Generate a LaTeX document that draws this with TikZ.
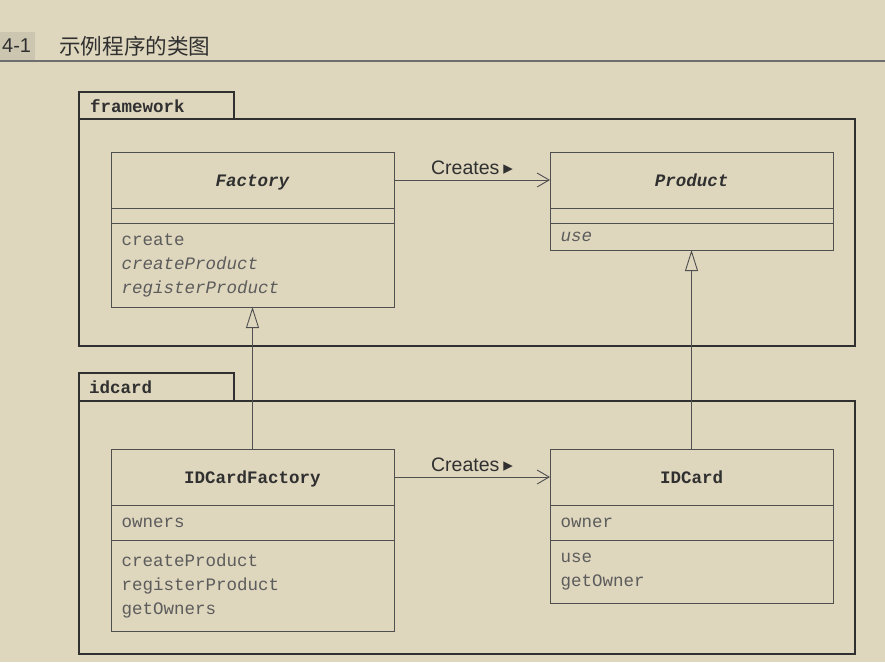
\documentclass[tikz,border=0pt]{standalone}
\usepackage{fontspec}
\setmainfont{Liberation Sans}
\setmonofont{Liberation Mono}
\newfontfamily\cjk{Noto Sans CJK SC}
\newfontfamily\symfont{DejaVu Sans}
\usetikzlibrary{arrows.meta}

\definecolor{paper}{RGB}{222,214,189}
\definecolor{ink}{RGB}{48,48,48}
\definecolor{member}{RGB}{92,92,92}
\definecolor{tabgray}{RGB}{204,198,177}

\tikzset{
  compart/.style={draw=ink!85, line width=0.9pt, anchor=north west, inner xsep=10.5pt, inner ysep=0pt, outer sep=0pt,
    text width=262pt, align=left, text=member, font=\ttfamily\fontsize{17.5}{24}\selectfont},
  clsname/.style={compart, align=center, text=ink, font=\ttfamily\bfseries\fontsize{17.5}{24}\selectfont,
    minimum height=56pt, text height=12pt, text depth=0pt},
  pkg/.style={draw=ink, line width=1.8pt},
  pkgname/.style={anchor=west, inner sep=0pt, text=ink, font=\ttfamily\bfseries\fontsize{17.5}{24}\selectfont},
  creates/.style={draw=ink!85, line width=0.9pt, -{Straight Barb[length=12pt, width=14pt]}},
  inherit/.style={draw=ink!85, line width=0.9pt, -{Triangle[open, length=21pt, width=13pt]}},
  relname/.style={midway, above=5pt, inner sep=0pt, text=ink, font=\fontsize{19.5}{22}\selectfont}
}

\begin{document}
\begin{tikzpicture}[x=1pt, y=-1pt]

% paper
\fill[paper] (0,0) rectangle (885,662);
\useasboundingbox (0,0) rectangle (885,662);

% caption
\fill[tabgray] (0,32) rectangle (35,61);
\node[anchor=west, inner sep=0pt, text=ink, font=\fontsize{20}{24}\selectfont] (fignum) at (2,46) {4-1};
\node[anchor=west, inner sep=0pt, text=ink, font=\cjk\fontsize{21.6}{24}\selectfont] (figtitle) at (59,46) {示例程序的类图};
\draw[ink!70, line width=1.2pt] (0,61) -- (885,61);

% framework package
\draw[pkg] (79,92) rectangle (234,119);
\draw[pkg] (79,119) rectangle (855,346);
\node[pkgname] (fwname) at (90,106) {framework};

% Factory
\node[clsname] (facname) at (111,152) {\itshape Factory};
\node[compart, minimum height=15pt] (facattr) at (facname.south west) {};
\node[compart, minimum height=84pt] (facops) at (facattr.south west) {create\\\textit{createProduct}\\\textit{registerProduct}};

% Product
\node[clsname] (prodname) at (550,152) {\itshape Product};
\node[compart, minimum height=15pt] (prodattr) at (prodname.south west) {};
\node[compart, minimum height=27pt] (prodops) at (prodattr.south west) {\textit{use}};

% idcard package
\draw[pkg] (79,373) rectangle (234,401);
\draw[pkg] (79,401) rectangle (855,654);
\node[pkgname] (idname) at (89,387) {idcard};

% IDCardFactory
\node[clsname] (idfname) at (111,449) {IDCardFactory};
\node[compart, minimum height=35pt] (idfattr) at (idfname.south west) {owners};
\node[compart, minimum height=91pt] (idfops) at (idfattr.south west) {createProduct\\registerProduct\\getOwners};

% IDCard
\node[clsname] (cardname) at (550,449) {IDCard};
\node[compart, minimum height=35pt] (cardattr) at (cardname.south west) {owner};
\node[compart, minimum height=63pt] (cardops) at (cardattr.south west) {use\\getOwner};

% creates arrows
\draw[creates] (facname.east) -- (prodname.west) node[relname] {Creates\hspace{4pt}{\symfont\fontsize{19}{22}\selectfont ▸}};
\draw[creates] (idfname.east) -- (cardname.west) node[relname] {Creates\hspace{4pt}{\symfont\fontsize{19}{22}\selectfont ▸}};

% inheritance arrows
\draw[inherit] (idfname.north) -- (facops.south);
\draw[inherit] (cardname.north) -- (prodops.south);

\end{tikzpicture}
\end{document}
